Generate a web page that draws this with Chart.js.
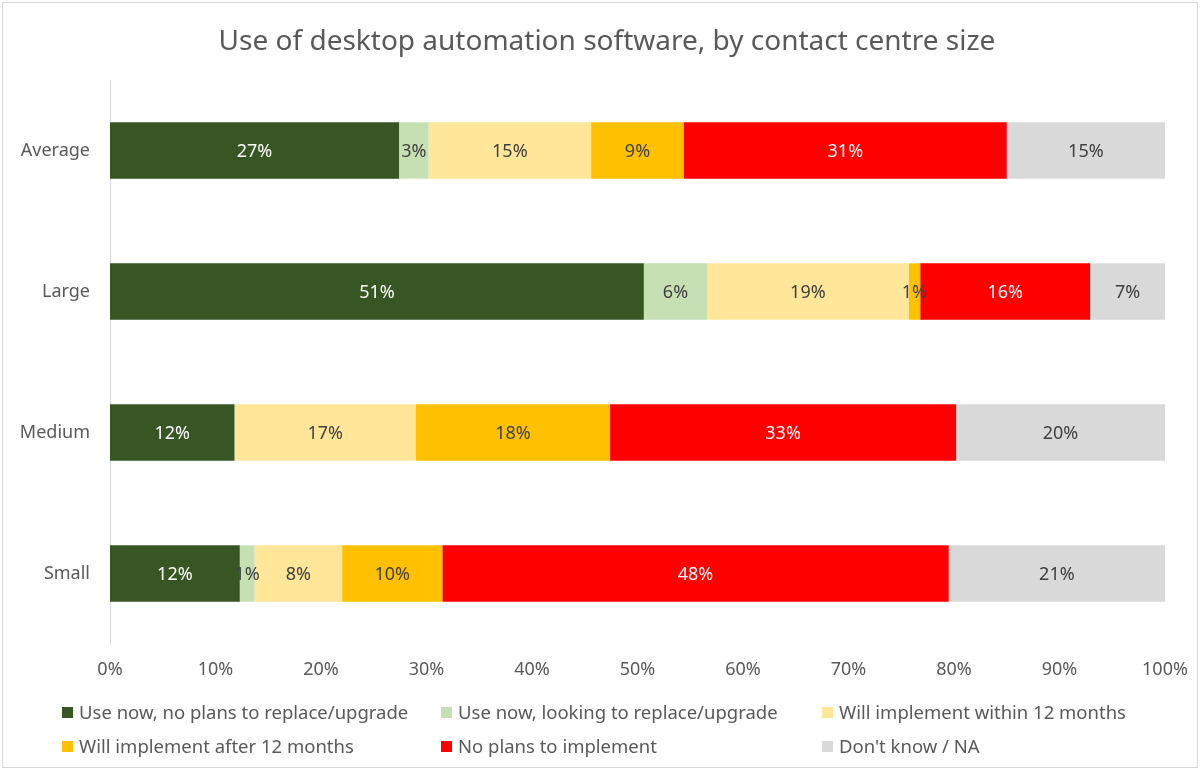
<!DOCTYPE html>
<html>
<head>
<meta charset="utf-8">
<script src="https://cdn.jsdelivr.net/npm/chart.js@4/dist/chart.umd.min.js"></script>
<style>
  html, body { margin: 0; padding: 0; background: #fff; }
  #wrap { position: relative; width: 1203px; height: 771px; overflow: hidden; }
  #frame { position: absolute; left: 2px; top: 2px; width: 1196px; height: 766px; border: 1px solid #d9d9d9; box-sizing: border-box; pointer-events: none; }
  #title { position: absolute; left: 607px; top: 40px; transform: translate(-50%, -50%); white-space: nowrap; font-family: "Noto Sans", sans-serif; font-size: 28px; color: #595959; line-height: 1.2; }
  #legend { position: absolute; left: 0; top: 699px; width: 1203px; font-family: "Noto Sans", sans-serif; font-size: 18.5px; color: #595959; }
  .item { position: absolute; display: flex; align-items: center; white-space: nowrap; line-height: 26px; }
  .item span.box { display: inline-block; width: 11px; height: 11px; margin-right: 6px; }
</style>
</head>
<body>
<div id="wrap">
  <canvas id="sizeChart" width="1203" height="771"></canvas>
  <div id="frame"></div>
  <div id="title">Use of desktop automation software, by contact centre size</div>
  <div id="legend"></div>
</div>
<script>
// ===== DATA =====
const categories = ['Average', 'Large', 'Medium', 'Small'];
const seriesNames = [
    'Use now, no plans to replace/upgrade',
    'Use now, looking to replace/upgrade',
    'Will implement within 12 months',
    'Will implement after 12 months',
    'No plans to implement',
    "Don't know / NA"
];
const useNowNoPlans = [27.4, 50.6, 11.8, 12.3];
const useNowReplace = [2.8, 6.0, 0, 1.4];
const within12 = [15.4, 19.1, 17.2, 8.3];
const after12 = [8.8, 1.1, 18.4, 9.5];
const noPlans = [30.6, 16.1, 32.8, 48.0];
const dontKnow = [15.0, 7.1, 19.8, 20.5];
const xTicks = [0, 10, 20, 30, 40, 50, 60, 70, 80, 90, 100];

const seriesValues = [useNowNoPlans, useNowReplace, within12, after12, noPlans, dontKnow];
const colors = ['#375623', '#c6e0b4', '#ffe699', '#ffc000', '#ff0000', '#d9d9d9'];
const labelColors = ['#ffffff', '#404040', '#404040', '#404040', '#ffffff', '#404040'];
const FONT = '"Noto Sans", sans-serif';

// ===== LEGEND (HTML, 3 columns) =====
const legendEl = document.getElementById('legend');
const colX = [62, 441, 822];
seriesNames.forEach((name, i) => {
    const item = document.createElement('div');
    item.className = 'item';
    item.style.left = colX[i % 3] + 'px';
    item.style.top = (Math.floor(i / 3) * 34) + 'px';
    const box = document.createElement('span');
    box.className = 'box';
    box.style.background = colors[i];
    item.appendChild(box);
    item.appendChild(document.createTextNode(name));
    legendEl.appendChild(item);
});

// ===== DATA LABELS PLUGIN =====
const barLabels = {
    id: 'barLabels',
    afterDatasetsDraw(chart) {
        const { ctx } = chart;
        ctx.save();
        ctx.font = '18px ' + FONT;
        ctx.textAlign = 'center';
        ctx.textBaseline = 'middle';
        chart.data.datasets.forEach((ds, di) => {
            chart.getDatasetMeta(di).data.forEach((bar, i) => {
                const v = ds.data[i];
                if (!v) return;
                const p = bar.getProps(['x', 'y', 'base'], true);
                ctx.fillStyle = labelColors[di];
                ctx.fillText(Math.round(v) + '%', (p.x + p.base) / 2, p.y + 1);
            });
        });
        ctx.restore();
    }
};

new Chart(document.getElementById('sizeChart'), {
    type: 'bar',
    data: {
        labels: categories,
        datasets: seriesNames.map((name, i) => ({
            label: name,
            data: seriesValues[i],
            backgroundColor: colors[i],
            borderWidth: 0,
            barPercentage: 1,
            categoryPercentage: 0.4
        }))
    },
    options: {
        indexAxis: 'y',
        responsive: false,
        animation: false,
        layout: { padding: { left: 0, right: 38, top: 80, bottom: 77 } },
        plugins: {
            legend: { display: false },
            tooltip: { enabled: false },
            title: { display: false }
        },
        scales: {
            x: {
                stacked: true,
                min: 0,
                max: 100,
                afterBuildTicks(scale) { scale.ticks = xTicks.map(v => ({ value: v })); },
                afterFit(scale) { scale.height = 50; },
                grid: { display: false, drawTicks: false },
                border: { display: false },
                ticks: {
                    color: '#595959',
                    font: { family: FONT, size: 18 },
                    padding: 15,
                    callback: v => v + '%'
                }
            },
            y: {
                stacked: true,
                afterFit(scale) { scale.width = 110; },
                grid: { display: false, drawTicks: false },
                border: { display: true, color: '#d9d9d9', width: 1 },
                ticks: {
                    color: '#595959',
                    font: { family: FONT, size: 18 },
                    padding: 20
                }
            }
        }
    },
    plugins: [barLabels]
});
</script>
</body>
</html>
